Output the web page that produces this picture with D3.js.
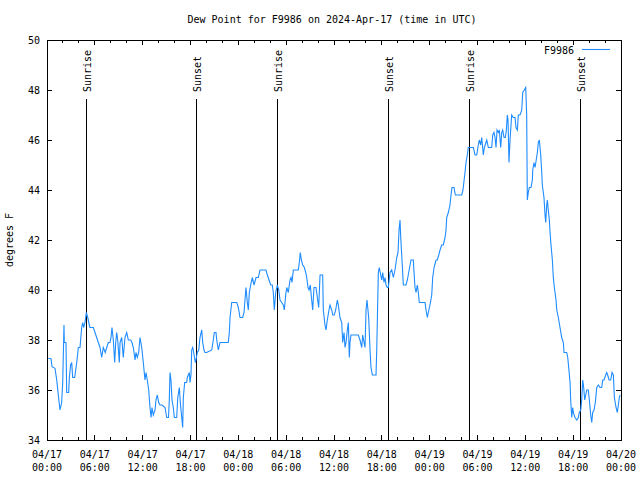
<!DOCTYPE html>
<html>
<head>
<meta charset="utf-8">
<script src="https://cdn.jsdelivr.net/npm/d3@7"></script>
<style>
  html, body { margin: 0; padding: 0; background: #fff; }
  svg { display: block; }
  text { font-family: "DejaVu Sans Mono", "Liberation Mono", monospace; font-size: 10px; fill: #000; }
</style>
</head>
<body>
<svg id="chart" width="640" height="480"></svg>
<script>
// ---- Data ----
const title = "Dew Point for F9986 on 2024-Apr-17 (time in UTC)";
const yLabel = "degrees F";
const seriesName = "F9986";
const startTime = "2024-04-17T00:00:00Z";
const endTime = "2024-04-20T00:00:00Z";

// hours since 04/17 00:00 UTC
const hours = [
 0.16,0.50,0.63,1.00,1.22,1.42,1.63,1.84,1.97,2.13,2.17,2.38,2.47,2.72,2.80,2.97,3.10,3.22,3.47,3.73,
 3.93,4.14,4.35,4.48,4.60,4.77,4.93,5.11,5.31,5.39,5.81,6.02,6.23,6.44,6.65,6.86,7.06,7.31,7.49,7.69,
 7.90,8.03,8.15,8.32,8.49,8.62,8.74,8.87,9.07,9.16,9.37,9.57,9.78,10.00,10.20,10.50,10.66,10.83,11.04,11.16,
 11.33,11.50,11.67,11.88,12.08,12.29,12.42,12.58,12.76,12.92,13.05,13.17,13.33,13.55,13.67,13.84,14.01,14.17,14.43,14.80,
 15.02,15.24,15.34,15.43,15.55,15.68,15.84,15.97,16.27,16.40,16.60,16.72,16.90,17.02,17.10,17.27,17.52,17.60,17.85,17.94,
 18.06,18.15,18.28,18.40,18.60,18.69,18.85,19.03,19.19,19.41,19.53,19.69,19.82,20.03,20.66,20.86,20.99,21.20,21.29,21.49,
 21.70,22.74,22.87,22.96,23.17,23.58,23.80,24.00,24.21,24.55,24.71,24.96,25.13,25.25,25.38,25.55,25.75,25.97,26.22,26.51,
 26.72,27.47,27.64,27.85,28.06,28.26,28.39,28.51,28.69,28.89,29.07,29.23,29.44,29.64,29.77,29.94,30.07,30.27,30.48,30.61,
 30.73,30.90,31.52,31.65,31.77,31.90,32.08,32.28,32.45,32.58,32.74,32.87,33.03,33.20,33.33,33.49,33.74,33.91,34.08,34.25,
 34.58,34.66,34.87,35.00,35.16,35.37,35.50,35.71,35.84,36.04,36.21,36.42,36.54,36.75,36.97,37.09,37.26,37.38,37.51,37.67,
 37.80,37.92,38.01,38.13,39.05,39.26,39.48,39.60,39.77,39.89,40.02,40.14,40.35,40.52,40.64,40.81,41.27,41.36,41.56,41.68,
 41.86,41.99,42.11,42.27,42.40,42.52,42.69,42.81,43.03,43.24,43.44,43.65,43.87,44.03,44.16,44.28,44.37,44.53,44.70,45.03,
 45.20,45.37,45.54,45.66,45.95,46.04,46.16,46.29,46.45,46.58,46.70,47.42,47.54,47.71,47.83,48.04,48.26,48.38,48.55,48.80,
 48.96,49.14,49.30,49.51,49.71,49.93,50.05,50.14,50.34,50.55,50.68,50.80,51.05,51.22,52.02,52.18,52.43,52.56,52.72,52.85,
 53.48,53.69,53.90,54.10,54.23,54.40,54.53,54.73,54.86,55.16,55.36,55.78,55.91,56.07,56.20,56.32,56.45,56.61,56.74,56.91,
 57.04,57.16,57.33,57.49,57.62,57.74,57.83,57.95,58.08,58.29,58.49,58.71,58.83,59.00,59.12,59.33,59.55,59.67,59.87,60.05,
 60.17,60.25,60.37,60.50,60.71,60.88,60.93,61.09,61.22,61.51,61.63,61.76,61.93,62.06,62.13,62.34,62.47,62.56,62.68,62.76,
 62.88,63.01,63.10,63.22,63.39,63.51,63.64,63.85,63.94,64.14,64.35,64.56,64.77,64.85,65.19,65.32,65.44,65.61,65.69,65.82,
 65.94,66.02,66.23,66.45,66.65,66.77,66.95,67.07,67.20,67.32,67.45,67.58,67.70,67.90,68.03,68.20,68.33,68.45,68.62,68.78,
 68.96,69.16,69.37,69.58,69.71,69.87,70.08,70.21,70.33,70.50,70.71,70.88,71.04,71.17,71.38,71.54,71.67,71.79,71.88
];
const dewPoint = [
 37.27,37.25,36.93,36.87,36.4,35.8,35.2,35.5,36.3,38.6,37.9,37.9,35.9,35.9,36.5,37.0,37.1,36.5,36.5,37.1,
 37.7,37.7,38.5,38.7,38.5,38.7,39.1,38.9,38.6,38.5,38.5,38.3,38.1,37.9,37.7,37.3,37.7,37.5,37.7,37.9,
 37.9,38.1,38.5,38.0,37.1,37.9,38.3,38.0,37.1,37.9,38.1,37.3,38.1,38.3,38.0,38.0,37.9,37.7,37.2,37.5,
 37.3,37.5,38.1,37.7,37.1,36.4,36.7,36.4,36.0,35.3,34.9,35.3,35.0,35.2,35.6,35.8,35.5,35.4,35.4,35.3,
 34.9,34.9,35.6,36.7,36.4,35.6,35.3,34.9,34.9,35.7,36.1,35.5,34.9,34.5,35.7,36.3,36.3,36.5,36.7,36.3,
 36.6,37.6,37.7,37.5,37.1,37.2,37.5,37.6,38.1,38.4,37.9,37.6,37.5,37.5,37.6,38.0,38.3,38.3,38.0,37.6,
 37.9,37.9,38.3,38.9,39.5,39.5,39.5,39.3,38.9,38.9,39.1,40.1,39.5,39.2,39.9,40.2,40.5,40.2,40.5,40.5,
 40.8,40.8,40.6,40.4,40.2,40.2,39.9,39.2,39.9,40.2,40.0,39.6,39.5,39.4,39.2,39.8,40.1,39.9,40.4,40.5,
 40.3,40.8,40.8,41.1,41.5,41.2,41.0,40.9,40.7,40.5,40.1,40.0,40.2,39.6,39.2,40.1,40.1,39.7,39.3,40.6,
 40.6,39.2,38.6,38.4,38.8,39.2,39.4,39.2,39.0,39.0,39.2,39.6,39.4,38.9,38.7,37.9,38.3,37.7,37.9,38.4,
 38.7,37.3,37.9,38.2,38.2,38.0,37.7,38.2,37.9,37.7,39.2,39.6,38.9,37.6,36.9,36.6,36.6,37.6,40.7,40.9,
 40.6,40.4,40.7,40.3,40.5,40.2,40.1,40.1,40.7,40.8,40.5,40.8,41.3,41.5,42.4,42.8,42.1,41.2,40.2,40.2,
 40.4,40.7,41.0,41.2,41.2,40.7,40.1,39.9,40.2,39.9,39.5,39.5,39.2,38.9,39.1,39.4,39.8,40.5,40.9,41.2,
 41.2,41.4,41.6,41.8,41.8,42.1,42.4,42.9,43.1,43.4,43.8,44.1,44.1,43.8,43.8,44.0,44.7,45.1,45.4,45.7,
 45.7,45.4,45.4,45.8,46.0,45.8,46.1,45.4,45.7,46.0,45.7,45.7,46.2,46.3,46.1,45.7,46.4,46.3,46.4,45.7,
 46.3,46.4,46.1,46.1,46.4,47.0,46.8,45.1,46.0,47.0,46.9,46.9,46.5,46.4,47.0,47.0,47.2,47.9,48.0,48.1,
 47.0,43.6,43.9,44.1,44.1,44.4,44.8,45.1,44.9,45.5,45.9,46.0,45.4,44.7,44.2,43.7,43.0,42.7,43.4,43.6,
 43.2,42.8,42.3,41.8,41.2,40.5,40.1,39.6,39.2,38.9,38.5,38.1,37.9,37.5,37.5,37.3,36.9,36.3,35.6,34.9,
 35.3,35.1,34.9,34.8,34.9,35.1,35.2,35.6,36.4,36.1,35.6,35.8,36.0,36.0,35.6,35.0,34.7,35.1,35.2,35.5,
 36.1,36.2,36.1,36.1,36.4,36.4,36.6,36.7,36.6,36.4,36.4,36.7,36.6,35.7,35.3,35.1,35.4,35.7,35.8
];

const sunEvents = ["Sunrise","Sunset","Sunrise","Sunset","Sunrise","Sunset"];
const sunTimes = ["2024-04-17T04:56:00Z","2024-04-17T18:44:00Z","2024-04-18T04:53:00Z",
                  "2024-04-18T18:49:00Z","2024-04-19T04:58:00Z","2024-04-19T18:57:00Z"];

const yDomain = [34, 50];
const yTicks = [34, 36, 38, 40, 42, 44, 46, 48, 50];

// ---- Layout ----
const W = 640, H = 480;
const margin = {left: 47, right: 19, top: 40, bottom: 40};
const svg = d3.select("#chart");
const pw = W - margin.left - margin.right;
const ph = H - margin.top - margin.bottom;

const t0 = new Date(startTime), t1 = new Date(endTime);
const x = d3.scaleUtc().domain([t0, t1]).range([margin.left, margin.left + pw]);
const y = d3.scaleLinear().domain(yDomain).range([margin.top + ph, margin.top]);

const data = hours.map((h, i) => ({t: new Date(t0.getTime() + h * 3600e3), v: dewPoint[i]}));

const fmtDate = d3.utcFormat("%m/%d");
const fmtTime = d3.utcFormat("%H:%M");

const g = svg.append("g");

// Title
svg.append("text").attr("x", 332).attr("y", 23).attr("text-anchor", "middle").text(title);

// Y label
svg.append("text").attr("transform", "translate(13,240) rotate(-90)")
  .attr("text-anchor", "middle").text(yLabel);

const majorX = d3.utcHour.every(6).range(t0, d3.utcHour.offset(t1, 1));
const minorX = d3.utcHour.every(2).range(t0, d3.utcHour.offset(t1, 1)).filter(d => d.getUTCHours() % 6 !== 0);

// Ticks (inward, mirrored)
const axisG = svg.append("g").attr("stroke", "#000").attr("shape-rendering", "crispEdges");
const yb = margin.top + ph, yt = margin.top;
majorX.forEach(d => {
  axisG.append("line").attr("x1", x(d)).attr("x2", x(d)).attr("y1", yb).attr("y2", yb - 5);
  axisG.append("line").attr("x1", x(d)).attr("x2", x(d)).attr("y1", yt).attr("y2", yt + 5);
});
minorX.forEach(d => {
  axisG.append("line").attr("x1", x(d)).attr("x2", x(d)).attr("y1", yb).attr("y2", yb - 3);
  axisG.append("line").attr("x1", x(d)).attr("x2", x(d)).attr("y1", yt).attr("y2", yt + 3);
});
const xl = margin.left, xr = margin.left + pw;
yTicks.forEach(v => {
  axisG.append("line").attr("x1", xl).attr("x2", xl + 5).attr("y1", y(v)).attr("y2", y(v));
  axisG.append("line").attr("x1", xr).attr("x2", xr - 5).attr("y1", y(v)).attr("y2", y(v));
});

// X tick labels
majorX.forEach(d => {
  const tx = svg.append("text").attr("x", x(d)).attr("text-anchor", "middle");
  tx.append("tspan").attr("x", x(d)).attr("y", 458).text(fmtDate(d));
  tx.append("tspan").attr("x", x(d)).attr("y", 471).text(fmtTime(d));
});
// Y tick labels
yTicks.forEach(v => {
  svg.append("text").attr("x", 40).attr("y", y(v)).attr("dy", "0.35em")
    .attr("text-anchor", "end").text(v);
});

// Sunrise / sunset lines
sunTimes.forEach((s, i) => {
  const d = new Date(s);
  axisG.append("line").attr("x1", x(d)).attr("x2", x(d)).attr("y1", 99).attr("y2", yb);
  svg.append("text")
    .attr("transform", `translate(${x(d) + 1},92) rotate(-90)`)
    .attr("text-anchor", "start").attr("dy", "0.35em").text(sunEvents[i]);
});

// Series line
const line = d3.line().x(d => x(d.t)).y(d => y(d.v));
svg.append("path").datum(data).attr("d", line)
  .attr("fill", "none").attr("stroke", "#1e8cff").attr("stroke-width", 1.1)
  .attr("stroke-linejoin", "miter");

// Border
svg.append("rect").attr("x", xl).attr("y", yt).attr("width", pw).attr("height", ph)
  .attr("fill", "none").attr("stroke", "#000").attr("shape-rendering", "crispEdges");

// Legend
svg.append("text").attr("x", 574).attr("y", 50).attr("dy", "0.35em").attr("text-anchor", "end").text(seriesName);
svg.append("line").attr("x1", 582).attr("x2", 610).attr("y1", 49.5).attr("y2", 49.5)
  .attr("stroke", "#1e8cff").attr("stroke-width", 1.1);
</script>
</body>
</html>
